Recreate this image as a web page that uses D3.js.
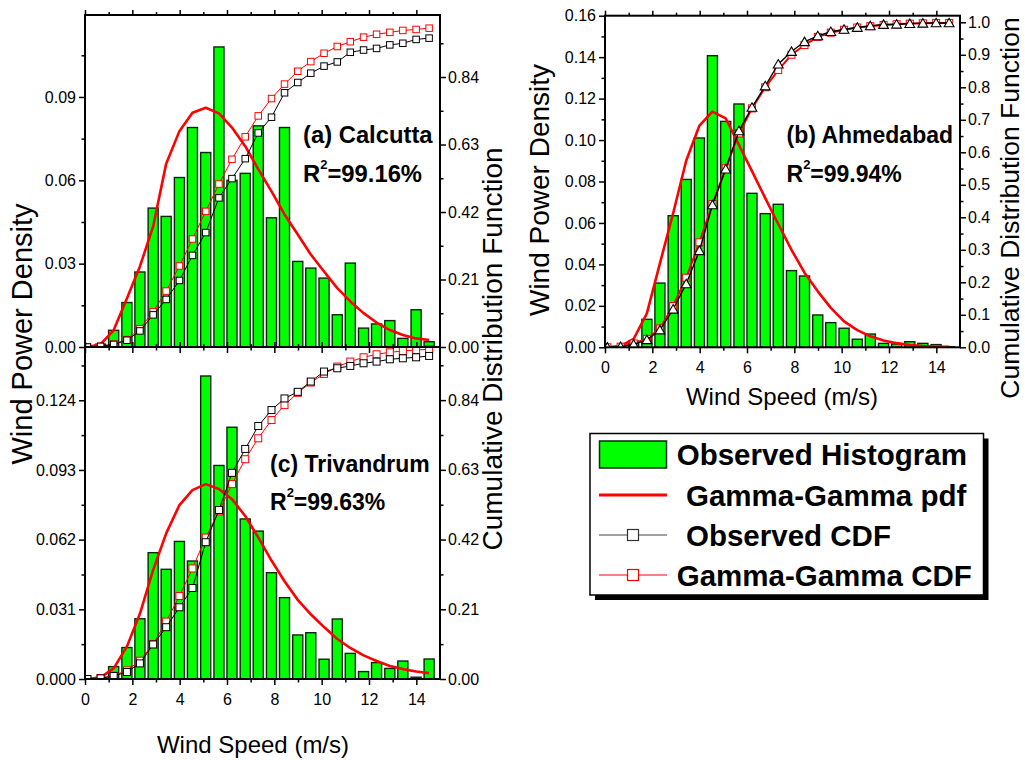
<!DOCTYPE html>
<html><head><meta charset="utf-8">
<script src="https://cdn.jsdelivr.net/npm/d3@7"></script>
<style>body{margin:0;background:#fff} svg{font-family:"Liberation Sans",Arial,Helvetica,sans-serif}</style>
</head><body><svg id="c" width="1025" height="760"></svg>
<script>
// ---------- data ----------
const speeds = [0.10,0.66,1.21,1.77,2.32,2.88,3.43,3.99,4.54,5.10,5.66,6.21,6.77,7.32,7.88,8.43,8.99,9.54,10.10,10.66,11.21,11.77,12.32,12.88,13.43,13.99,14.54];

const calHist = [0.0004,0.001,0.006,0.016,0.027,0.050,0.047,0.061,0.079,0.070,0.108,0.060,0.0625,0.0796,0.0465,0.079,0.0308,0.0284,0.0248,0.0116,0.0302,0.0068,0.0083,0.0095,0.0031,0.0134,0.0019];
const calPdf = [0.0,0.001,0.006,0.0175,0.029,0.0434,0.066,0.0777,0.0843,0.0861,0.0841,0.079,0.0723,0.064,0.056,0.0477,0.0405,0.0333,0.0272,0.0212,0.0164,0.0122,0.0088,0.0061,0.0043,0.0031,0.0025];
const calCdfObs = [0,0.002,0.008,0.021,0.05,0.10,0.148,0.207,0.285,0.356,0.464,0.524,0.586,0.666,0.715,0.791,0.823,0.852,0.874,0.887,0.917,0.924,0.929,0.940,0.945,0.957,0.961];
const calCdfFit = [0,0.002,0.009,0.023,0.057,0.11,0.174,0.252,0.336,0.422,0.507,0.584,0.654,0.719,0.773,0.818,0.858,0.888,0.914,0.935,0.950,0.964,0.973,0.979,0.985,0.988,0.992];

const triHist = [0.0003,0.0007,0.0055,0.014,0.0268,0.0562,0.0488,0.0612,0.0525,0.1348,0.095,0.112,0.0712,0.0658,0.0473,0.0362,0.0196,0.0206,0.0088,0.0267,0.0114,0.0033,0.0073,0.0047,0.008,0.0008,0.0089];
const triPdf = [0,0.0007,0.0047,0.0144,0.029,0.0485,0.0648,0.0774,0.084,0.0867,0.0845,0.080,0.0725,0.063,0.0527,0.0435,0.0352,0.0288,0.0231,0.0178,0.0138,0.0105,0.008,0.0058,0.0044,0.0033,0.0026];
const triCdfObs = [0,0.002,0.009,0.021,0.047,0.104,0.156,0.216,0.274,0.412,0.509,0.621,0.693,0.762,0.81,0.845,0.865,0.896,0.926,0.936,0.943,0.951,0.956,0.963,0.966,0.969,0.973];
const triCdfFit = [0,0.003,0.01,0.026,0.055,0.105,0.173,0.25,0.333,0.426,0.505,0.587,0.662,0.725,0.78,0.825,0.862,0.893,0.919,0.941,0.956,0.969,0.978,0.984,0.988,0.991,0.993];

const ahmHist = [0.0002,0.0004,0.003,0.0135,0.031,0.0635,0.081,0.101,0.1407,0.109,0.1174,0.0743,0.0645,0.069,0.037,0.0344,0.0156,0.0119,0.0092,0.0039,0.0064,0.0019,0.0016,0.0027,0.0019,0.0013,0.0003];
const ahmPdf = [0,0.0006,0.004,0.0164,0.0405,0.0647,0.090,0.107,0.1137,0.1105,0.0976,0.085,0.072,0.0595,0.047,0.036,0.027,0.019,0.0125,0.0083,0.0053,0.0033,0.002,0.0011,0.0006,0.0003,0.0002];
const ahmCdfObs = [0,0.002,0.009,0.023,0.053,0.117,0.195,0.297,0.438,0.548,0.666,0.738,0.804,0.871,0.91,0.94,0.958,0.971,0.978,0.984,0.989,0.993,0.994,0.996,0.997,0.998,0.998];
const ahmCdfFit = [0,0.002,0.012,0.026,0.058,0.127,0.214,0.323,0.441,0.551,0.658,0.735,0.80,0.853,0.90,0.93,0.955,0.968,0.977,0.984,0.988,0.992,0.994,0.996,0.997,0.998,0.998];

// ---------- tick labels ----------
const xTicks = [0,2,4,6,8,10,12,14];
const xMinor = [1,3,5,7,9,11,13];
const calLeftTicks = [0,0.03,0.06,0.09];
const calLeftMinor = [0.015,0.045,0.075,0.105];
const cdfTicks = [0,0.21,0.42,0.63,0.84];
const cdfMinor = [0.105,0.315,0.525,0.735,0.945];
const triLeftTicks = [0,0.031,0.062,0.093,0.124];
const triLeftMinor = [0.0155,0.0465,0.0775,0.1085,0.1395];
const ahmLeftTicks = [0,0.02,0.04,0.06,0.08,0.10,0.12,0.14,0.16];
const ahmLeftMinor = [0.01,0.03,0.05,0.07,0.09,0.11,0.13,0.15];
const ahmRightTicks = [0,0.1,0.2,0.3,0.4,0.5,0.6,0.7,0.8,0.9,1.0];
const ahmRightMinor = [0.05,0.15,0.25,0.35,0.45,0.55,0.65,0.75,0.85,0.95];
const legendLabels = ['Observed Histogram','Gamma-Gamma pdf','Observed CDF','Gamma-Gamma CDF'];

// ---------- drawing ----------
const svg = d3.select('#c');
const binW = speeds[1]-speeds[0];

function styleAxis(sel, labelSize){
  sel.select('.domain').remove();
  sel.selectAll('.tick line').attr('stroke','#000').attr('stroke-width',1.5);
  sel.selectAll('.tick text').attr('fill','#000').attr('font-size',labelSize).attr('font-family','"Liberation Sans",Arial,sans-serif');
}

function drawPanel(p){
  const x = d3.scaleLinear().domain([0,15]).range([p.x0,p.x1]);
  const yL = d3.scaleLinear().domain([0,p.leftMax]).range([p.y1,p.y0]);
  const yR = d3.scaleLinear().domain([0,p.rightMax]).range([p.y1,p.y0]);
  const cid = 'clip'+p.id;
  svg.append('clipPath').attr('id',cid).append('rect')
    .attr('x',p.x0).attr('y',p.y0-4).attr('width',p.x1-p.x0).attr('height',p.y1-p.y0+4);
  const plot = svg.append('g').attr('clip-path',`url(#${cid})`);
  const bw = x(binW*0.76)-x(0);
  plot.selectAll('rect.bar').data(p.hist).join('rect').attr('class','bar')
    .attr('x',(d,i)=>x(speeds[i])-bw/2).attr('width',bw)
    .attr('y',d=>yL(d)).attr('height',d=>Math.max(0,yL(0)-yL(d)))
    .attr('fill','#00ff00').attr('stroke','#0d260d').attr('stroke-width',1.4);
  plot.append('path').datum(p.pdf)
    .attr('d',d3.line().x((d,i)=>x(speeds[i])).y(d=>yL(d)))
    .attr('fill','none').attr('stroke','#ff0000').attr('stroke-width',2.6).attr('stroke-linejoin','round');
  // fitted CDF (red squares)
  plot.append('path').datum(p.fit)
    .attr('d',d3.line().x((d,i)=>x(speeds[i])).y(d=>yR(d)))
    .attr('fill','none').attr('stroke','#ff0000').attr('stroke-width',p.fitW);
  const ms = p.ms;
  plot.selectAll('rect.fit').data(p.fit).join('rect').attr('class','fit')
    .attr('x',(d,i)=>x(speeds[i])-ms/2).attr('y',d=>yR(d)-ms/2).attr('width',ms).attr('height',ms)
    .attr('fill','#fff').attr('stroke','#ff0000').attr('stroke-width',1);
  // observed CDF
  plot.append('path').datum(p.obs)
    .attr('d',d3.line().x((d,i)=>x(speeds[i])).y(d=>yR(d)))
    .attr('fill','none').attr('stroke','#000').attr('stroke-width',p.obsW);
  if(p.tri){
    const sym = d3.symbol().type(d3.symbolTriangle).size(42);
    plot.selectAll('path.obs').data(p.obs).join('path').attr('class','obs')
      .attr('d',sym).attr('transform',(d,i)=>`translate(${x(speeds[i])},${yR(d)+1})`)
      .attr('fill','#fff').attr('stroke','#000').attr('stroke-width',1.1);
  } else {
    plot.selectAll('rect.obs').data(p.obs).join('rect').attr('class','obs')
      .attr('x',(d,i)=>x(speeds[i])-ms/2).attr('y',d=>yR(d)-ms/2).attr('width',ms).attr('height',ms)
      .attr('fill','#fff').attr('stroke','#000').attr('stroke-width',1);
  }
  // axes
  const f = p.leftFmt, fr = p.rightFmt;
  const axes = svg.append('g');
  const addAx = (gen, tr)=>{ const a = axes.append('g').attr('transform',tr).call(gen); styleAxis(a,16); return a; };
  addAx(d3.axisLeft(yL).tickValues(p.leftTicks).tickSize(6).tickPadding(3).tickFormat(d3.format(f)), `translate(${p.x0},0)`);
  addAx(d3.axisLeft(yL).tickValues(p.leftMinor).tickSize(3.5).tickFormat(''), `translate(${p.x0},0)`);
  addAx(d3.axisRight(yR).tickValues(p.rightTicks).tickSize(6).tickPadding(2).tickFormat(d3.format(fr)), `translate(${p.x1},0)`);
  addAx(d3.axisRight(yR).tickValues(p.rightMinor).tickSize(3.5).tickFormat(''), `translate(${p.x1},0)`);
  addAx(d3.axisBottom(x).tickValues(xTicks).tickSize(6).tickPadding(8.5).tickFormat(p.xLabels? d3.format('d') : ''), `translate(0,${p.y1})`);
  addAx(d3.axisBottom(x).tickValues(xMinor).tickSize(3.5).tickFormat(''), `translate(0,${p.y1})`);
  addAx(d3.axisTop(x).tickValues(xTicks).tickSize(5).tickFormat(''), `translate(0,${p.y0})`);
  addAx(d3.axisTop(x).tickValues(xMinor).tickSize(3).tickFormat(''), `translate(0,${p.y0})`);
  axes.append('rect').attr('x',p.x0).attr('y',p.y0).attr('width',p.x1-p.x0).attr('height',p.y1-p.y0)
    .attr('fill','none').attr('stroke','#000').attr('stroke-width',2);
  // annotation
  svg.append('text').attr('x',p.ax).attr('y',p.ay).attr('font-weight','bold').attr('font-size',p.fs).text(p.name);
  const a2 = svg.append('text').attr('x',p.ax).attr('y',p.ay+38.5).attr('font-weight','bold').attr('font-size',p.fs);
  a2.append('tspan').text('R');
  a2.append('tspan').attr('font-size',13).attr('dy',-13).text('2');
  a2.append('tspan').attr('dy',13).text(p.r2);
}

drawPanel({id:'a', x0:85, x1:440, y0:15, y1:347, leftMax:0.1195, rightMax:1.033,
  leftTicks:calLeftTicks, leftMinor:calLeftMinor, rightTicks:cdfTicks, rightMinor:cdfMinor,
  leftFmt:'.2f', rightFmt:'.2f', xLabels:false, hist:calHist, pdf:calPdf, obs:calCdfObs, fit:calCdfFit,
  tri:false, ms:6.5, obsW:1, fitW:1, ax:303, ay:143, fs:23.8, name:'(a) Calcutta', r2:'=99.16%'});
drawPanel({id:'c', x0:85, x1:440, y0:347, y1:679, leftMax:0.1477, rightMax:1.0,
  leftTicks:triLeftTicks, leftMinor:triLeftMinor, rightTicks:cdfTicks, rightMinor:cdfMinor,
  leftFmt:'.3f', rightFmt:'.2f', xLabels:true, hist:triHist, pdf:triPdf, obs:triCdfObs, fit:triCdfFit,
  tri:false, ms:7, obsW:1, fitW:1, ax:270, ay:471.5, fs:23, name:'(c) Trivandrum', r2:'=99.63%'});
drawPanel({id:'b', x0:605, x1:960, y0:15.7, y1:347.3, leftMax:0.16, rightMax:1.0203,
  leftTicks:ahmLeftTicks, leftMinor:ahmLeftMinor, rightTicks:ahmRightTicks, rightMinor:ahmRightMinor,
  leftFmt:'.2f', rightFmt:'.1f', xLabels:true, hist:ahmHist, pdf:ahmPdf, obs:ahmCdfObs, fit:ahmCdfFit,
  tri:true, ms:7, obsW:1.4, fitW:2, ax:786.5, ay:143, fs:23, name:'(b) Ahmedabad', r2:'=99.94%'});

// axis titles
const title = (txt,x,y,rot,size)=> svg.append('text').attr('transform',`translate(${x},${y}) rotate(${rot})`)
  .attr('text-anchor','middle').attr('font-size',size).attr('fill','#000').text(txt);
title('Wind Power Density',31.5,334,-90,29);
title('Cumulative Distribution Function',502,349,-90,28);
title('Wind Speed (m/s)',253,753,0,24);
title('Wind Power Density',549,190,-90,28);
title('Cumulative Distribution Function',1019,208,-90,26.5);
title('Wind Speed (m/s)',782,405,0,24);

// legend
const lg = svg.append('g');
lg.append('rect').attr('x',595).attr('y',438.5).attr('width',393.5).attr('height',161.5).attr('fill','#000');
lg.append('rect').attr('x',590).attr('y',433.5).attr('width',393.5).attr('height',161.5)
  .attr('fill','#fff').attr('stroke','#000').attr('stroke-width',1.5);
const rowsY = [454.5,495,535,575];
const textX = [676.7,686,686,676.7];
lg.append('rect').attr('x',599.5).attr('y',441).attr('width',67).attr('height',27)
  .attr('fill','#00ff00').attr('stroke','#0d260d').attr('stroke-width',1.5);
lg.append('line').attr('x1',599).attr('x2',667).attr('y1',rowsY[1]).attr('y2',rowsY[1]).attr('stroke','#ff0000').attr('stroke-width',3);
lg.append('line').attr('x1',599).attr('x2',667).attr('y1',rowsY[2]).attr('y2',rowsY[2]).attr('stroke','#444').attr('stroke-width',1);
lg.append('rect').attr('x',627.5).attr('y',rowsY[2]-5.5).attr('width',11).attr('height',11).attr('fill','#fff').attr('stroke','#333').attr('stroke-width',1.2);
lg.append('line').attr('x1',599).attr('x2',667).attr('y1',rowsY[3]).attr('y2',rowsY[3]).attr('stroke','#ff0000').attr('stroke-width',1);
lg.append('rect').attr('x',627.5).attr('y',rowsY[3]-5.5).attr('width',11).attr('height',11).attr('fill','#fff').attr('stroke','#ff0000').attr('stroke-width',1.2);
lg.selectAll('text.lt').data(legendLabels).join('text').attr('class','lt')
  .attr('x',(d,i)=>textX[i]).attr('y',(d,i)=>rowsY[i]+10.5)
  .attr('font-size',29.5).attr('font-weight','bold').attr('fill','#000').text(d=>d);
</script></body></html>
